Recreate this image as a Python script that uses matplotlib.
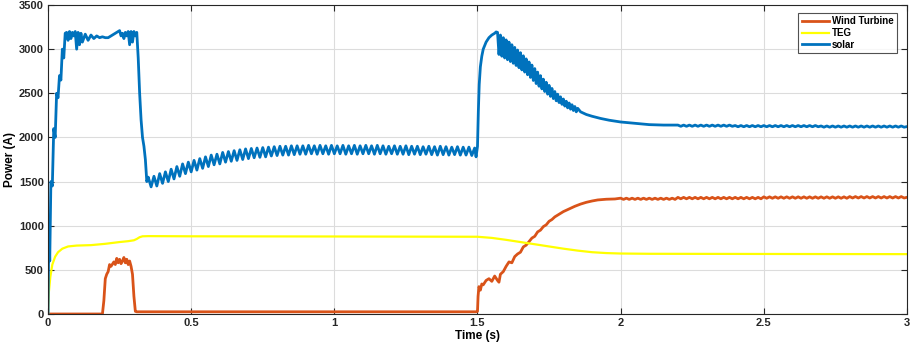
import matplotlib
matplotlib.use("Agg")
import matplotlib.pyplot as plt
import numpy as np

plt.rcParams['font.family'] = ['Liberation Sans', 'DejaVu Sans']

# ---- solar (segment by segment) ----
solar_t_start = [0, 0.003, 0.006, 0.01, 0.015, 0.02, 0.025, 0.03, 0.035, 0.04, 0.045, 0.05, 0.055, 0.06,
                 0.065, 0.07, 0.075, 0.08, 0.085, 0.09, 0.095, 0.1, 0.105, 0.11, 0.115, 0.12, 0.13, 0.14,
                 0.15, 0.16, 0.17, 0.18, 0.19, 0.2, 0.21, 0.22, 0.23, 0.24, 0.25, 0.255, 0.26, 0.265,
                 0.27, 0.275, 0.28, 0.285, 0.29, 0.295, 0.3, 0.305, 0.31,
                 0.315, 0.32, 0.325, 0.33, 0.335, 0.34, 0.345]
solar_v_start = [0, 1000, 600, 1500, 1450, 2100, 2000, 2500, 2450, 2700, 2650, 3000, 2900, 3180,
                 3190, 3100, 3200, 3120, 3190, 3150, 3200, 3000, 3190, 3050, 3180, 3080, 3170, 3100,
                 3160, 3120, 3150, 3130, 3140, 3130, 3130, 3150, 3170, 3190, 3210, 3150, 3180, 3120,
                 3190, 3150, 3200, 3050, 3200, 3080, 3200, 3150, 3190,
                 2900, 2500, 2200, 2000, 1900, 1750, 1500]

solar_t_mid = np.round(np.arange(0.35, 1.495, 0.01), 3)
solar_v_mid = [1550, 1440, 1560, 1450, 1590, 1480, 1610, 1500, 1640, 1530,
               1670, 1560, 1700, 1590, 1720, 1610, 1740, 1630, 1760, 1650,
               1780, 1670, 1800, 1690, 1810, 1700, 1830, 1720, 1840, 1730,
               1850, 1740, 1860, 1750, 1870, 1760, 1875, 1770, 1880, 1775,
               1885, 1780, 1890, 1790, 1895, 1795, 1900, 1800, 1900, 1800,
               1905, 1805, 1905, 1810, 1905, 1810, 1910, 1815, 1905, 1810,
               1910, 1815, 1905, 1810, 1910, 1815, 1905, 1815, 1910, 1810,
               1905, 1815, 1910, 1810, 1905, 1815, 1910, 1815, 1905, 1810,
               1910, 1815, 1905, 1810, 1900, 1815, 1905, 1810, 1900, 1810,
               1905, 1805, 1900, 1810, 1900, 1805, 1895, 1810, 1900, 1805,
               1895, 1800, 1900, 1805, 1895, 1800, 1890, 1805, 1895, 1800,
               1890, 1800, 1890, 1795, 1880]

solar_t_rise = [1.495, 1.5, 1.503, 1.506, 1.51, 1.515, 1.52, 1.53, 1.54, 1.55, 1.56, 1.565]
solar_v_rise = [1780, 1900, 2300, 2600, 2800, 2920, 3000, 3080, 3130, 3160, 3180, 3195]

solar_t_decay = np.round(np.arange(1.57, 1.8525, 0.005), 4)
solar_v_decay = [3190, 2940, 3160, 2920, 3130, 2900, 3105, 2880, 3080, 2860,
                 3050, 2840, 3020, 2815, 2990, 2790, 2960, 2765, 2925, 2740,
                 2890, 2710, 2855, 2680, 2820, 2645, 2780, 2610, 2740, 2580,
                 2700, 2550, 2660, 2520, 2625, 2490, 2590, 2465, 2555, 2440,
                 2520, 2415, 2490, 2395, 2460, 2375, 2435, 2355, 2410, 2335,
                 2390, 2320, 2370, 2305, 2350, 2290, 2330]

solar_t_tail = [1.86, 1.88, 1.9, 1.93, 1.96, 2.0, 2.05, 2.1, 2.15] + list(np.round(np.arange(2.2, 3.001, 0.01), 3))
solar_v_tail = [2290, 2260, 2240, 2215, 2195, 2175, 2160, 2145, 2140,
                2140, 2126, 2140, 2126, 2140, 2126, 2140, 2126, 2140, 2126,
                2140, 2126, 2140, 2126, 2140, 2126, 2140, 2126, 2140, 2126,
                2135, 2121, 2135, 2121, 2135, 2121, 2135, 2121, 2135, 2121,
                2135, 2121, 2135, 2121, 2135, 2121, 2135, 2121, 2135, 2121,
                2135, 2121, 2135, 2121, 2135, 2121, 2135, 2121, 2135, 2121,
                2130, 2116, 2130, 2116, 2130, 2116, 2130, 2116, 2130, 2116,
                2130, 2116, 2130, 2116, 2130, 2116, 2130, 2116, 2130, 2116,
                2130, 2116, 2130, 2116, 2130, 2116, 2130, 2116, 2130, 2116,
                2123]

# ---- wind turbine ----
wind_t_pulse = [0, 0.19, 0.195, 0.2, 0.205, 0.21, 0.215, 0.22, 0.23, 0.235, 0.24, 0.245, 0.25, 0.255,
                0.26, 0.265, 0.27, 0.275, 0.28, 0.285, 0.29, 0.295, 0.3, 0.305, 0.31]
wind_v_pulse = [0, 0, 150, 400, 450, 480, 560, 540, 590, 560, 630, 580, 620, 570,
                600, 640, 580, 620, 560, 600, 540, 450, 200, 30, 25]

wind_t_flat = [0.5, 0.8, 1.1, 1.4, 1.495]
wind_v_flat = [25, 25, 25, 25, 25]

wind_t_rise = [1.5, 1.502, 1.505, 1.51, 1.515, 1.52, 1.53, 1.54, 1.55, 1.56, 1.57, 1.575, 1.58, 1.59,
               1.6, 1.61, 1.62, 1.63, 1.64, 1.65, 1.66, 1.67, 1.68, 1.69, 1.7, 1.71, 1.72, 1.73,
               1.74, 1.75, 1.76, 1.77, 1.78, 1.79, 1.8, 1.82, 1.84, 1.86, 1.88, 1.9, 1.92, 1.95, 1.98]
wind_v_rise = [30, 200, 310, 270, 340, 330, 380, 400, 370, 430, 380, 360, 450, 480,
               540, 590, 580, 650, 680, 700, 760, 780, 820, 860, 880, 930, 950, 990,
               1010, 1050, 1070, 1100, 1120, 1140, 1160, 1190, 1220, 1245, 1265, 1280, 1292, 1300, 1303]

wind_t_tail = list(np.round(np.arange(2.0, 3.001, 0.01), 3))
wind_v_tail = [1312, 1298, 1312, 1298, 1312, 1298, 1312, 1298, 1312, 1298,
               1312, 1298, 1312, 1298, 1312, 1298, 1312, 1298, 1312, 1298,
               1321, 1305, 1321, 1305, 1321, 1305, 1321, 1305, 1321, 1305,
               1321, 1305, 1321, 1305, 1321, 1305, 1321, 1305, 1321, 1305,
               1321, 1305, 1321, 1305, 1321, 1305, 1321, 1305, 1321, 1305,
               1327, 1311, 1327, 1311, 1327, 1311, 1327, 1311, 1327, 1311,
               1327, 1311, 1327, 1311, 1327, 1311, 1327, 1311, 1327, 1311,
               1327, 1311, 1327, 1311, 1327, 1311, 1327, 1311, 1327, 1311,
               1330, 1314, 1330, 1314, 1330, 1314, 1330, 1314, 1330, 1314,
               1330, 1314, 1330, 1314, 1330, 1314, 1330, 1314, 1330, 1314,
               1322]

# ---- TEG ----
teg_t = [0, 0.003, 0.008, 0.015, 0.025, 0.035, 0.05, 0.07, 0.1, 0.15, 0.2, 0.25, 0.28, 0.3, 0.31,
         0.32, 0.33, 0.35, 0.5, 1.0, 1.5, 1.55, 1.6, 1.65, 1.7, 1.75, 1.8, 1.85, 1.9, 1.95, 2.0,
         2.1, 2.5, 3.0]
teg_v = [0, 250, 420, 560, 650, 700, 740, 765, 775, 780, 795, 815, 825, 835, 850,
         870, 880, 882, 880, 878, 875, 862, 840, 815, 790, 765, 740, 718, 700, 690, 685,
         682, 680, 678]

solar_t = np.concatenate([solar_t_start, solar_t_mid, solar_t_rise, solar_t_decay, solar_t_tail])
solar_v = np.concatenate([solar_v_start, solar_v_mid, solar_v_rise, solar_v_decay, solar_v_tail])
wind_t = np.concatenate([wind_t_pulse, wind_t_flat, wind_t_rise, wind_t_tail])
wind_v = np.concatenate([wind_v_pulse, wind_v_flat, wind_v_rise, wind_v_tail])

fig = plt.figure(figsize=(9.13, 3.46), dpi=100)
ax = fig.add_axes([0.0526, 0.0925, 0.9408, 0.893])

ax.plot(wind_t, wind_v, color='#D95319', lw=2.0, label='Wind Turbine')
ax.plot(teg_t, teg_v, color='#FFFF00', lw=1.6, label='TEG')
ax.plot(solar_t, solar_v, color='#0072BD', lw=2.0, label='solar')

ax.set_xlim(0, 3)
ax.set_ylim(0, 3500)
ax.set_xticks([0, 0.5, 1, 1.5, 2, 2.5, 3])
ax.set_xticklabels(['0', '0.5', '1', '1.5', '2', '2.5', '3'])
ax.set_yticks(np.arange(0, 3501, 500))
ax.grid(True, color='#dcdcdc', lw=0.8)
ax.set_axisbelow(True)
ax.tick_params(direction='in', length=4, width=0.8, colors='#262626', labelsize=8,
               top=True, right=True, pad=3)
for lbl in ax.get_xticklabels() + ax.get_yticklabels():
    lbl.set_fontweight('bold')
for sp in ax.spines.values():
    sp.set_color('#262626')
    sp.set_linewidth(0.8)

ax.set_xlabel('Time (s)', fontsize=8.5, fontweight='bold', labelpad=1)
ax.set_ylabel('Power (A)', fontsize=8.5, fontweight='bold', labelpad=2)

leg = ax.legend(loc='upper right', bbox_to_anchor=(0.992, 0.985), fontsize=7, frameon=True,
                fancybox=False, edgecolor='#262626', handlelength=2.8, handletextpad=0.3,
                borderpad=0.35, labelspacing=0.2, borderaxespad=0.3)
leg.get_frame().set_linewidth(0.8)
for t in leg.get_texts():
    t.set_fontweight('bold')

fig.savefig('out.png', dpi=100)
